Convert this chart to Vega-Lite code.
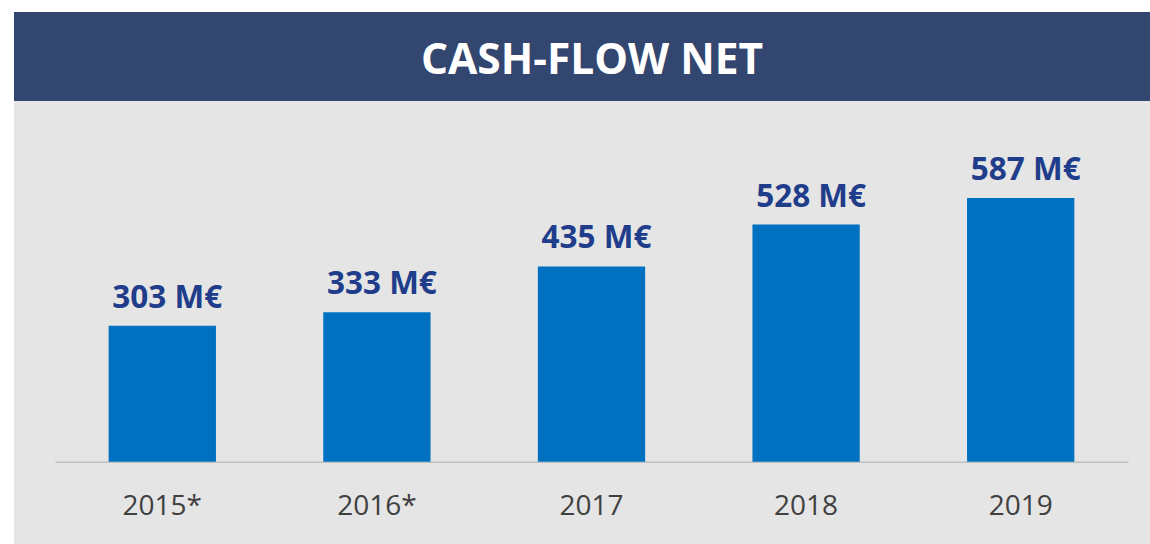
{
  "$schema": "https://vega.github.io/schema/vega-lite/v6.json",
  "background": "white",
  "padding": {"left": 14, "top": 12, "right": 0, "bottom": 0},
  "spacing": 0,
  "config": {"concat": {"spacing": 0}, "font": "Open Sans"},
  "vconcat": [
    {
      "width": 1136,
      "height": 89,
      "view": {"fill": "#32466f", "stroke": null},
      "data": {"values": [{"title": "CASH-FLOW NET"}]},
      "mark": {"type": "text", "color": "white", "fontSize": 42.5, "fontWeight": "bold", "font": "Open Sans", "baseline": "middle", "align": "center", "dx": 10, "dy": 4},
      "encoding": {"text": {"field": "title"}}
    },
    {
      "width": 1136,
      "height": 443,
      "view": {"fill": "#e5e5e5", "stroke": null},
      "data": {"values": [
        {"year": "2015*", "value": 303, "label": "303 M€"},
        {"year": "2016*", "value": 333, "label": "333 M€"},
        {"year": "2017", "value": 435, "label": "435 M€"},
        {"year": "2018", "value": 528, "label": "528 M€"},
        {"year": "2019", "value": 587, "label": "587 M€"}
      ]},
      "encoding": {
        "x": {
          "field": "year", "type": "nominal", "sort": null,
          "scale": {"range": [41, 1114], "paddingInner": 0.5, "paddingOuter": 0.25},
          "axis": {
            "title": null, "offset": -82.3, "ticks": false,
            "domainColor": "#bfbfbf", "domainWidth": 1.5,
            "labelFontSize": 28, "labelColor": "#404040", "labelFont": "Open Sans",
            "labelPadding": 31, "labelAngle": 0, "grid": false
          }
        },
        "y": {
          "field": "value", "type": "quantitative",
          "scale": {"domain": [0, 803.3], "range": [360.7, 0]},
          "axis": null
        }
      },
      "layer": [
        {"mark": {"type": "bar", "color": "#0070c0"}},
        {
          "mark": {"type": "text", "color": "#1f3d8a", "fontSize": 31.5, "fontWeight": "bold", "font": "Open Sans", "baseline": "alphabetic", "align": "center", "dy": -18, "dx": 5},
          "encoding": {"text": {"field": "label"}}
        }
      ]
    }
  ]
}
